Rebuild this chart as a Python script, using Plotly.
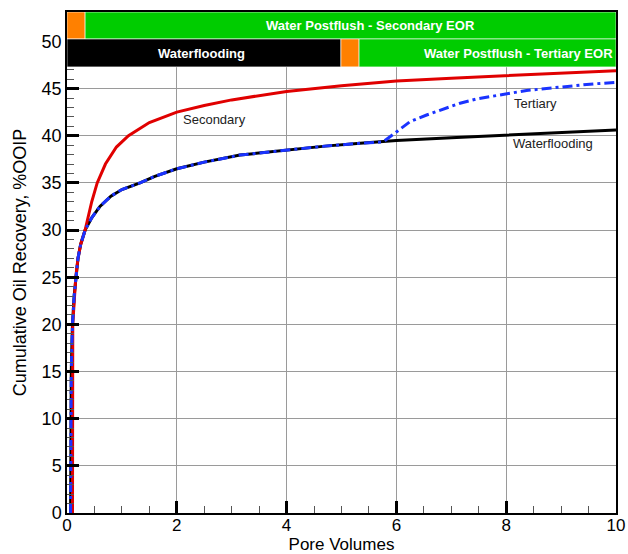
import plotly.graph_objects as go

# Waterflooding (black)
wf_pv = [0.065, 0.068, 0.072, 0.078, 0.09, 0.1, 0.13, 0.16, 0.2, 0.25, 0.33, 0.45, 0.6, 0.8, 1.0,
         1.33, 1.6, 2.0, 2.5, 3.15, 4.0, 4.7, 5.34, 6.0, 7.0, 8.0, 9.0, 10.0]
wf_rec = [0, 5, 10, 15, 18, 20, 23, 25, 27, 28.5, 30, 31.3, 32.5, 33.6, 34.3,
          35.0, 35.7, 36.5, 37.2, 37.95, 38.5, 38.9, 39.2, 39.5, 39.8, 40.05, 40.35, 40.6]

# Secondary EOR (red)
sec_pv = [0.1, 0.1, 0.1, 0.1, 0.105, 0.16, 0.2, 0.25, 0.33, 0.45, 0.55, 0.7, 0.9, 1.12, 1.5,
          2.0, 2.5, 3.0, 4.0, 5.0, 6.0, 7.0, 8.0, 9.0, 10.0]
sec_rec = [0, 5, 10, 15, 20, 25, 27, 28.5, 30, 33, 35, 37, 38.8, 40, 41.4,
           42.5, 43.2, 43.8, 44.7, 45.3, 45.8, 46.1, 46.36, 46.65, 46.9]

# Tertiary EOR (blue)
ter_pv = [0.065, 0.068, 0.072, 0.078, 0.09, 0.1, 0.13, 0.16, 0.2, 0.25, 0.33, 0.45, 0.6, 0.8, 1.0,
          1.33, 1.6, 2.0, 2.5, 3.15, 4.0, 4.7, 5.34, 5.76, 6.0, 6.25, 6.55, 6.86, 7.16, 7.46,
          7.76, 8.0, 8.37, 8.98, 9.59, 10.0]
ter_rec = [0, 5, 10, 15, 18, 20, 23, 25, 27, 28.5, 30, 31.3, 32.5, 33.6, 34.3,
           35.0, 35.7, 36.5, 37.2, 37.95, 38.5, 38.9, 39.2, 39.35, 40.4, 41.5, 42.2, 42.8, 43.45, 43.9,
           44.2, 44.5, 44.8, 45.15, 45.5, 45.65]

x_ticks = [0, 2, 4, 6, 8, 10]
y_ticks = [0, 5, 10, 15, 20, 25, 30, 35, 40, 45, 50]

# Process bars: (label, x0, x1, y0, y1, color)
bar_segments = [
    ("", 0.0, 0.33, 50.26, 53.12, "#ff8000"),
    ("Water Postflush - Secondary EOR", 0.33, 10.0, 50.26, 53.12, "#00cc00"),
    ("Waterflooding", 0.0, 4.99, 47.3, 50.26, "#000000"),
    ("", 4.99, 5.32, 47.3, 50.26, "#ff8000"),
    ("Water Postflush - Tertiary EOR", 5.32, 10.0, 47.3, 50.26, "#00cc00"),
]
bar_label_pos = {
    "Water Postflush - Secondary EOR": (5.53, 51.69),
    "Waterflooding": (2.45, 48.75),
    "Water Postflush - Tertiary EOR": (8.22, 48.75),
}

FONT = "Liberation Sans, Arial, sans-serif"

fig = go.Figure()
fig.add_trace(go.Scatter(x=wf_pv, y=wf_rec, mode="lines", line=dict(color="#000000", width=3),
                         showlegend=False, hoverinfo="skip"))
fig.add_trace(go.Scatter(x=sec_pv, y=sec_rec, mode="lines", line=dict(color="#e00000", width=3),
                         showlegend=False, hoverinfo="skip"))
fig.add_trace(go.Scatter(x=ter_pv, y=ter_rec, mode="lines",
                         line=dict(color="#1a33ff", width=3, dash="10px,4px,3px,4px"),
                         showlegend=False, hoverinfo="skip"))

for label, x0, x1, y0, y1, col in bar_segments:
    fig.add_shape(type="rect", xref="x", yref="y", x0=x0, x1=x1, y0=y0, y1=y1,
                  fillcolor=col, line=dict(color="rgba(255,255,255,0.6)", width=1), layer="above")
    if label:
        bx, by = bar_label_pos[label]
        fig.add_annotation(x=bx, y=by, xref="x", yref="y", text="<b>" + label + "</b>",
                           showarrow=False, font=dict(family=FONT, size=13, color="white"))

curve_labels = [("Secondary", 2.08, 41.75), ("Tertiary", 8.1, 43.4), ("Waterflooding", 8.08, 39.2)]
for t, x, y in curve_labels:
    fig.add_annotation(x=x, y=y, xref="x", yref="y", text=t, showarrow=False, xanchor="left",
                       font=dict(family=FONT, size=13, color="#222222"))

fig.update_layout(
    width=628, height=554,
    margin=dict(l=67, r=12, t=12, b=41),
    paper_bgcolor="white", plot_bgcolor="white",
    font=dict(family=FONT, size=18, color="black"),
    showlegend=False,
)
fig.update_xaxes(
    range=[0, 10], tickvals=x_ticks, ticks="inside", ticklen=12, tickwidth=2.5, tickcolor="black",
    showgrid=True, gridcolor="#9a9a9a", gridwidth=1, zeroline=False,
    showline=True, linecolor="black", linewidth=1.5, mirror=True,
    minor=dict(dtick=0.5, ticks="inside", ticklen=7, tickwidth=1, tickcolor="#555555", showgrid=False),
    title=dict(text="Pore Volumes", font=dict(size=17), standoff=0),
    tickfont=dict(size=17), ticklabelstandoff=-4, automargin=False,
)
fig.update_yaxes(
    range=[0, 53.12], tickvals=y_ticks, ticks="inside", ticklen=12, tickwidth=2.5, tickcolor="black",
    showgrid=True, gridcolor="#9a9a9a", gridwidth=1, zeroline=False,
    showline=True, linecolor="black", linewidth=1.5, mirror=True,
    minor=dict(dtick=1, ticks="inside", ticklen=7, tickwidth=1, tickcolor="#555555", showgrid=False),
    title=dict(text="Cumulative Oil Recovery, %OOIP", font=dict(size=18), standoff=10),
    tickfont=dict(size=18), automargin=False,
)

fig.write_html("out.html")
